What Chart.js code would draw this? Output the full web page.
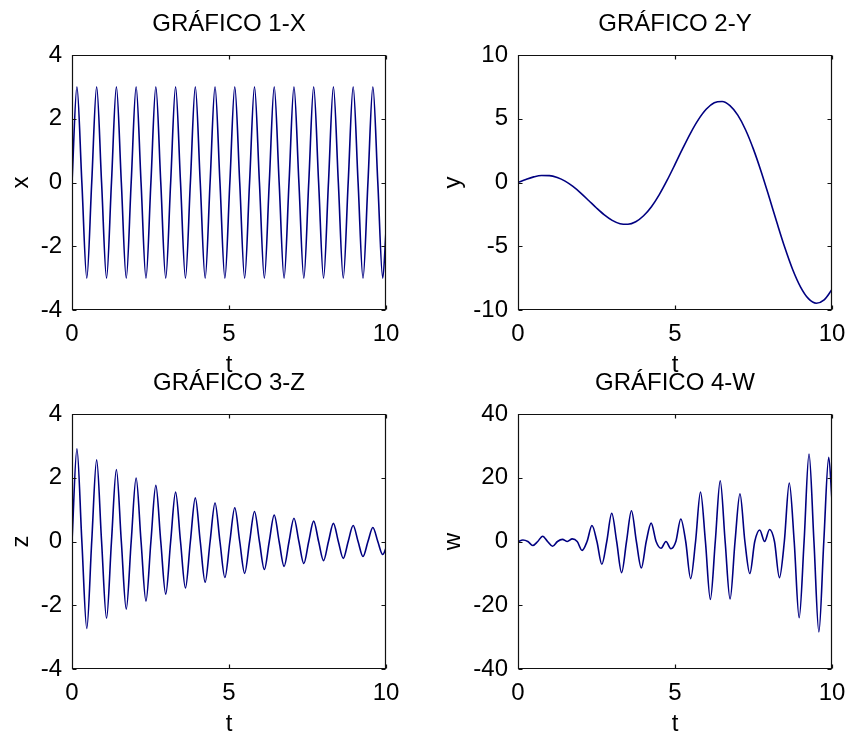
<!DOCTYPE html>
<html>
<head>
<meta charset="utf-8">
<title>Gráficos</title>
<script src="https://cdn.jsdelivr.net/npm/chart.js@4.4.1/dist/chart.umd.min.js"></script>
<style>
  html, body { margin: 0; padding: 0; background: #fff; overflow: hidden; }
  body { width: 847px; height: 736px; position: relative; }
  canvas { position: absolute; }
</style>
</head>
<body>
<canvas id="g1" width="430" height="380" style="left:0;top:0"></canvas>
<canvas id="g2" width="440" height="380" style="left:430px;top:0"></canvas>
<canvas id="g3" width="430" height="380" style="left:0;top:359px"></canvas>
<canvas id="g4" width="440" height="380" style="left:430px;top:359px"></canvas>
<script>
// time samples (zeros and peaks of the fast oscillation)
const tFast = [
  0, 0.157, 0.314, 0.471, 0.628, 0.785, 0.942, 1.100,
  1.257, 1.414, 1.571, 1.728, 1.885, 2.042, 2.199, 2.356,
  2.513, 2.670, 2.827, 2.985, 3.142, 3.299, 3.456, 3.613,
  3.770, 3.927, 4.084, 4.241, 4.398, 4.555, 4.712, 4.869,
  5.027, 5.184, 5.341, 5.498, 5.655, 5.812, 5.969, 6.126,
  6.283, 6.440, 6.597, 6.754, 6.912, 7.069, 7.226, 7.383,
  7.540, 7.697, 7.854, 8.011, 8.168, 8.325, 8.482, 8.639,
  8.796, 8.954, 9.111, 9.268, 9.425, 9.582, 9.739, 9.896,
  10
];

const xVals = [
  0, 3, 0, -3, 0, 3, 0, -3,
  0, 3, 0, -3, 0, 3, 0, -3,
  0, 3, 0, -3, 0, 3, 0, -3,
  0, 3, 0, -3, 0, 3, 0, -3,
  0, 3, 0, -3, 0, 3, 0, -3,
  0, 3, 0, -3, 0, 3, 0, -3,
  0, 3, 0, -3, 0, 3, 0, -3,
  0, 3, 0, -3, 0, 3, 0, -3,
  -1.52
];

const zVals = [
  0, 2.91, 0, -2.73, 0, 2.56, 0, -2.41,
  0, 2.26, 0, -2.12, 0, 1.99, 0, -1.87,
  0, 1.76, 0, -1.65, 0, 1.55, 0, -1.46,
  0, 1.37, 0, -1.28, 0, 1.21, 0, -1.13,
  0, 1.06, 0, -1.00, 0, 0.94, 0, -0.88,
  0, 0.83, 0, -0.78, 0, 0.73, 0, -0.69,
  0, 0.64, 0, -0.60, 0, 0.57, 0, -0.53,
  0, 0.50, 0, -0.47, 0, 0.44, 0, -0.41,
  -0.21
];

const wVals = [
  0, 0.47, 0, -1.26, 0, 1.67, 0, -1.50,
  0, 0.66, 0, 0.81, 0, -2.78, 0, 5.00,
  0, -7.14, 0, 8.84, 0, -9.77, 0, 9.66,
  0, -8.33, 0, 5.78, 0, -2.14, 0, -2.28,
  0, 7.06, 0, -11.66, 0, 15.54, 0, -18.15,
  0, 19.08, 0, -18.05, 0, 14.99, 0, -10.06,
  0, 3.61, 0, 3.76, 0, -11.34, 0, 18.33,
  0, -23.93, 0, 27.46, 0, -28.39, 0, 26.45,
  12.75
];

// slow curve, every 0.25 s
const tSlow = [
  0, 0.25, 0.5, 0.75, 1, 1.25, 1.5, 1.75, 2, 2.25,
  2.5, 2.75, 3, 3.25, 3.5, 3.75, 4, 4.25, 4.5, 4.75,
  5, 5.25, 5.5, 5.75, 6, 6.25, 6.5, 6.75, 7, 7.25,
  7.5, 7.75, 8, 8.25, 8.5, 8.75, 9, 9.25, 9.5, 9.75,
  10
];
const yVals = [
  0, 0.24, 0.44, 0.55, 0.54, 0.39, 0.11, -0.31, -0.83, -1.41,
  -2.00, -2.54, -2.97, -3.23, -3.28, -3.08, -2.61, -1.90, -0.95, 0.18,
  1.42, 2.69, 3.90, 4.95, 5.76, 6.25, 6.35, 6.03, 5.28, 4.12,
  2.60, 0.81, -1.16, -3.18, -5.12, -6.84, -8.20, -9.11, -9.47, -9.21,
  -8.39
];

const xTicks = [0, 5, 10];

Chart.defaults.font.family = "'Liberation Sans', Arial, Helvetica, sans-serif";
Chart.defaults.font.size = 24;
Chart.defaults.color = '#000';

const LINE = '#000080';
const TICK = 4;

// matlab style box with inward ticks on all four sides
const boxTicks = {
  id: 'boxTicks',
  afterDatasetsDraw(chart) {
    const { ctx, chartArea: a } = chart;
    const xs = chart.scales.x, ys = chart.scales.y;
    const L = Math.round(a.left) + 0.5, R = Math.round(a.right) - 0.5;
    const T = Math.round(a.top) + 0.5, B = Math.round(a.bottom) - 0.5;
    ctx.save();
    ctx.strokeStyle = '#111';
    ctx.lineWidth = 1.2;
    ctx.beginPath();
    ctx.rect(L, T, R - L, B - T);
    xs.ticks.forEach(tk => {
      const px = Math.round(xs.getPixelForValue(tk.value)) + 0.5;
      ctx.moveTo(px, B); ctx.lineTo(px, B - TICK);
      ctx.moveTo(px, T); ctx.lineTo(px, T + TICK);
    });
    ys.ticks.forEach(tk => {
      const py = Math.round(ys.getPixelForValue(tk.value)) + 0.5;
      ctx.moveTo(L, py); ctx.lineTo(L + TICK, py);
      ctx.moveTo(R, py); ctx.lineTo(R - TICK, py);
    });
    ctx.stroke();
    ctx.restore();
  }
};

function points(ts, vs) {
  return ts.map((t, i) => ({ x: t, y: vs[i] }));
}

function makeChart(id, o) {
  return new Chart(document.getElementById(id), {
    type: 'line',
    data: {
      datasets: [{
        data: points(o.t, o.v),
        borderColor: LINE,
        borderWidth: 1.6,
        pointRadius: 0,
        cubicInterpolationMode: 'monotone',
        fill: false
      }]
    },
    options: {
      responsive: false,
      animation: false,
      events: [],
      layout: { padding: { left: 0, top: 0, bottom: 0, right: o.padRight } },
      plugins: {
        legend: { display: false },
        tooltip: { enabled: false },
        title: {
          display: true,
          text: o.title,
          fullSize: false,
          color: '#000',
          font: { size: 24, weight: 'normal', lineHeight: '28px' },
          padding: { top: 10, bottom: 17 }
        }
      },
      scales: {
        x: {
          type: 'linear',
          min: xTicks[0],
          max: xTicks[xTicks.length - 1],
          afterBuildTicks: s => { s.ticks = xTicks.map(v => ({ value: v })); },
          ticks: { padding: 10, maxRotation: 0 },
          grid: { display: false, drawTicks: false },
          border: { display: false },
          title: { display: true, text: 't', padding: 0 },
          afterFit: s => { s.height = 70; }
        },
        y: {
          min: o.yTicks[0],
          max: o.yTicks[o.yTicks.length - 1],
          afterBuildTicks: s => { s.ticks = o.yTicks.map(v => ({ value: v })); },
          ticks: { padding: 10 },
          grid: { display: false, drawTicks: false },
          border: { display: false },
          title: { display: true, text: o.ylabel, padding: { top: o.yTitlePad, bottom: 0 } },
          afterFit: s => { s.width = o.axisW; }
        }
      }
    },
    plugins: [boxTicks]
  });
}

// chart area: left/right 72..386 and 518..832, top 55 / 414
makeChart('g1', { t: tFast, v: xVals, title: 'GRÁFICO 1-X', ylabel: 'x', yTicks: [-4, -2, 0, 2, 4], axisW: 72, padRight: 44, yTitlePad: 7 });
makeChart('g2', { t: tSlow, v: yVals, title: 'GRÁFICO 2-Y', ylabel: 'y', yTicks: [-10, -5, 0, 5, 10], axisW: 88, padRight: 38, yTitlePad: 9 });
makeChart('g3', { t: tFast, v: zVals, title: 'GRÁFICO 3-Z', ylabel: 'z', yTicks: [-4, -2, 0, 2, 4], axisW: 72, padRight: 44, yTitlePad: 7 });
makeChart('g4', { t: tFast, v: wVals, title: 'GRÁFICO 4-W', ylabel: 'w', yTicks: [-40, -20, 0, 20, 40], axisW: 88, padRight: 38, yTitlePad: 9 });
</script>
</body>
</html>
